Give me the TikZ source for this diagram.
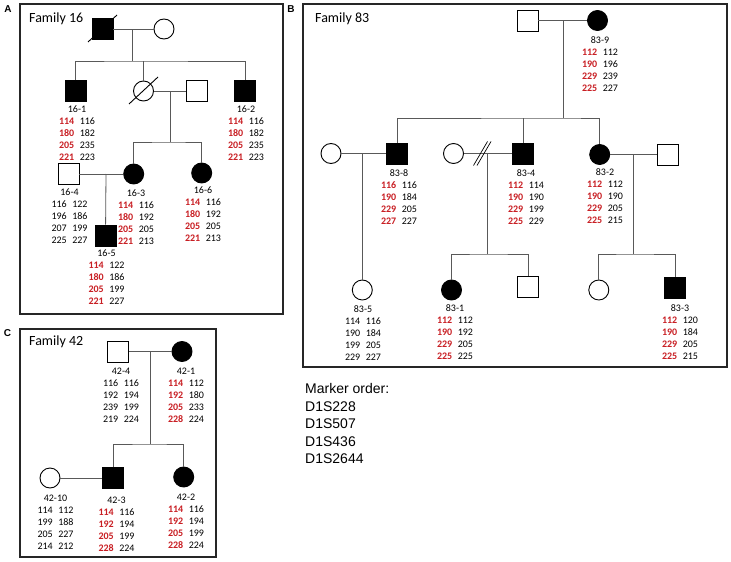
\documentclass[tikz,border=0pt]{standalone}
\usepackage{fontspec}
\setmainfont{Carlito}
\newfontfamily\arialfont{Liberation Sans}
\definecolor{hapred}{RGB}{200,30,35}
\newcommand{\rd}[1]{\textcolor{hapred}{\textbf{#1}}}
\newcommand{\fc}[1]{#1}
\newcommand{\geno}[9]{#1\\\fc{#2}\hspace{5.5pt}#3\\\fc{#4}\hspace{5.5pt}#5\\\fc{#6}\hspace{5.5pt}#7\\\fc{#8}\hspace{5.5pt}#9}
\newcommand{\dead}[1]{\draw[deadline] ([shift={(-14.5,13)}]#1.center) -- ([shift={(14.5,-14)}]#1.center);}
\begin{document}
\begin{tikzpicture}
[x=1pt,y=-1pt,
  indiv/.style={draw=black,line width=0.9pt,inner sep=0pt},
  male/.style={indiv,rectangle,minimum size=21pt},
  female/.style={indiv,circle,minimum size=20pt},
  aff/.style={fill=black},
  link/.style={draw=black!65,line width=0.8pt},
  deadline/.style={draw=black,line width=0.9pt},
  geno/.style={font=\fontsize{10}{12}\selectfont,align=center,inner sep=0pt,anchor=north},
  genored/.style={geno,execute at begin node={\let\fc\rd}},
  panel/.style={draw=black!85,line width=1.1pt},
  famlabel/.style={font=\fontsize{14}{16}\selectfont,anchor=base west,inner sep=0pt},
  letter/.style={font=\arialfont\bfseries\fontsize{10}{12}\selectfont,inner sep=0pt}]
\useasboundingbox (0,0) rectangle (731,562);
% panels
\draw[panel] (20,4) rectangle (283,314);
\draw[panel] (303,4) rectangle (727,367);
\draw[panel] (20,329) rectangle (216,557);
\node[letter] (lA) at (8,9.5) {A};
\node[letter] (lB) at (291,9) {B};
\node[letter] (lC) at (7.5,333.5) {C};
\node[famlabel] (fam16) at (29,22.7) {Family 16};
\node[famlabel] (fam83) at (315,22.7) {Family 83};
\node[famlabel] (fam42) at (29,345.5) {Family 42};
% family 16: individuals
\node[male,aff] (a1) at (102.5,29) {};
\node[female] (a2) at (164,29) {};
\coordinate (m16a) at (132,29);
\coordinate (s16a) at (132,61);
\node[male,aff] (p161) at (75.5,91) {};
\node[female] (p16d) at (143.5,91) {};
\node[male] (p16h) at (196.5,91) {};
\node[male,aff] (p162) at (245,91) {};
\coordinate (m16b) at (170,91);
\coordinate (s16b) at (170,142);
\node[male] (p164) at (68.5,174) {};
\node[female,aff] (p163) at (133.7,174) {};
\node[female,aff] (p166) at (201.7,173) {};
\coordinate (m16c) at (106,174);
\node[male,aff] (p165) at (105.5,235.5) {};
% family 16: lines
\draw[link] (a1) -- (a2);
\draw[link] (m16a) -- (s16a);
\draw[link] (p161) |- (s16a) -| (p162);
\draw[link] (p16d) -- (p16d |- s16a);
\draw[link] (p16d) -- (p16h);
\draw[link] (m16b) -- (s16b);
\draw[link] (p163) |- (s16b) -| (p166);
\draw[link] (p164) -- (p163);
\draw[link] (m16c) -- (p165);
\dead{a1}
\dead{p16d}
% family 16: haplotypes
\node[genored] (g161) at (77,105.8) {\geno{16-1}{114}{116}{180}{182}{205}{235}{221}{223}};
\node[genored] (g162) at (246,105.8) {\geno{16-2}{114}{116}{180}{182}{205}{235}{221}{223}};
\node[geno] (g164) at (69.5,188.8) {\geno{16-4}{116}{122}{196}{186}{207}{199}{225}{227}};
\node[genored] (g163) at (136,189.8) {\geno{16-3}{114}{116}{180}{192}{205}{205}{221}{213}};
\node[genored] (g166) at (203,186.8) {\geno{16-6}{114}{116}{180}{192}{205}{205}{221}{213}};
\node[genored] (g165) at (106.5,249.8) {\geno{16-5}{114}{122}{180}{186}{205}{199}{221}{227}};
% family 83: individuals
\node[male] (b0) at (527.5,20.5) {};
\node[female,aff] (b9) at (597.5,20.5) {};
\coordinate (m83a) at (563.3,20.5);
\coordinate (s83a) at (563.3,118);
\node[female] (b8w) at (331,153.5) {};
\node[male,aff] (b8) at (397,153.5) {};
\coordinate (m83b) at (362.3,153.5);
\node[female] (b4w) at (453.5,153.5) {};
\node[male,aff] (b4) at (523,153.5) {};
\coordinate (m83c) at (487.5,153.5);
\coordinate (brk) at (481.5,153.5);
\node[female,aff] (b2) at (599.7,154.5) {};
\node[male] (b2h) at (668,154.5) {};
\coordinate (m83d) at (633.3,154.5);
\coordinate (s83c) at (487.5,254);
\coordinate (s83d) at (633.3,254);
\node[female] (b5) at (362.3,290) {};
\node[female,aff] (b1) at (451.5,290) {};
\node[male] (b4s) at (528,287) {};
\node[female] (b2d) at (598.8,290) {};
\node[male,aff] (b3) at (675.3,287.5) {};
% family 83: lines
\draw[link] (b0) -- (b9);
\draw[link] (m83a) -- (s83a);
\draw[link] (b8) |- (s83a) -| (b2);
\draw[link] (b4) -- (b4 |- s83a);
\draw[link] (b8w) -- (b8);
\draw[link] (m83b) -- (b5);
\draw[link] (b4w) -- (b4);
\draw[link] (m83c) -- (s83c);
\draw[link] (b1) |- (s83c) -| (b4s);
\draw[link] (b2) -- (b2h);
\draw[link] (m83d) -- (s83d);
\draw[link] (b2d) |- (s83d) -| (b3);
\draw[deadline,line width=0.7pt] ([shift={(-8,12)}]brk) -- ([shift={(6,-12)}]brk)
  ([shift={(-4.5,12)}]brk) -- ([shift={(9.5,-12)}]brk);
% family 83: haplotypes
\node[genored] (g839) at (600,36.8) {\geno{83-9}{112}{112}{190}{196}{229}{239}{225}{227}};
\node[genored] (g838) at (399,169.5) {\geno{83-8}{116}{116}{190}{184}{229}{205}{227}{227}};
\node[genored] (g834) at (526,169.5) {\geno{83-4}{112}{114}{190}{190}{229}{199}{225}{229}};
\node[genored] (g832) at (605,168.8) {\geno{83-2}{112}{112}{190}{190}{229}{205}{225}{215}};
\node[geno] (g835) at (363,305.8) {\geno{83-5}{114}{116}{190}{184}{199}{205}{229}{227}};
\node[genored] (g831) at (455,304.1) {\geno{83-1}{112}{112}{190}{192}{229}{205}{225}{225}};
\node[genored] (g833) at (680,304.1) {\geno{83-3}{112}{120}{190}{184}{229}{205}{225}{215}};
% family 42: individuals
\node[male] (c4) at (118,351.5) {};
\node[female,aff] (c1) at (182,351.5) {};
\coordinate (m42a) at (150.7,351.5);
\coordinate (s42a) at (150.7,444);
\node[female] (c10) at (50,478) {};
\node[male,aff] (c3) at (113.3,478) {};
\node[female,aff] (c2) at (183.7,477) {};
% family 42: lines
\draw[link] (c4) -- (c1);
\draw[link] (m42a) -- (s42a);
\draw[link] (c3) |- (s42a) -| (c2);
\draw[link] (c10) -- (c3);
% family 42: haplotypes
\node[geno] (g424) at (121,367.5) {\geno{42-4}{116}{116}{192}{194}{239}{199}{219}{224}};
\node[genored] (g421) at (186,367.5) {\geno{42-1}{114}{112}{192}{180}{205}{233}{228}{224}};
\node[geno] (g4210) at (55.5,494.5) {\geno{42-10}{114}{112}{199}{188}{205}{227}{214}{212}};
\node[genored] (g423) at (116.5,496.8) {\geno{42-3}{114}{116}{192}{194}{205}{199}{228}{224}};
\node[genored] (g422) at (186,493.5) {\geno{42-2}{114}{116}{192}{194}{205}{199}{228}{224}};
% marker order
\node[font=\arialfont\fontsize{14}{17.5}\selectfont,align=left,anchor=north west,inner sep=0pt]
  (markers) at (305,383.3) {Marker order:\\D1S228\\D1S507\\D1S436\\D1S2644};
\end{tikzpicture}
\end{document}
